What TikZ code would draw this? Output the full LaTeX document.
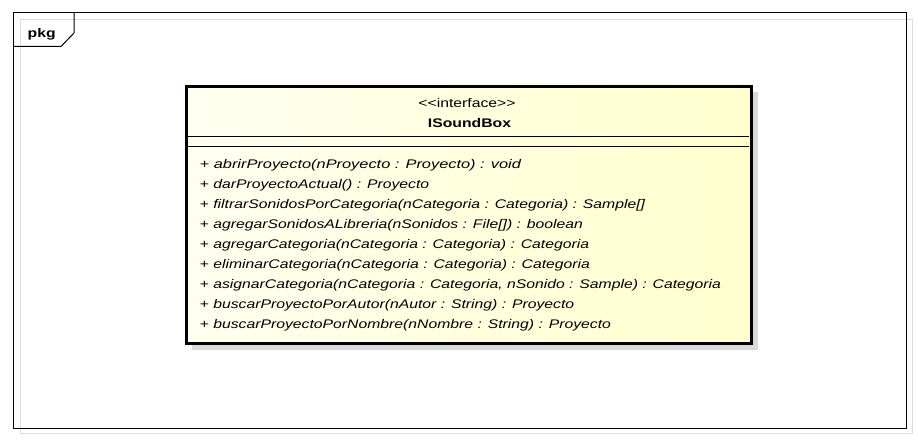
\documentclass[tikz,border=0pt]{standalone}
\usepackage{fontspec}
\setmainfont{Liberation Sans}[FakeStretch=1.26]
\begin{document}
\begin{tikzpicture}[x=1pt,y=-1pt,
  meth/.style={anchor=base west,inner sep=0pt,font=\fontsize{12.5}{15}\selectfont\itshape},
  hdr/.style={anchor=base,inner sep=0pt,font=\fontsize{12.5}{15}\selectfont}]
\useasboundingbox (0,0) rectangle (918,441);
\fill[white] (0,0) rectangle (918,441);
% package frame
\draw[line width=1pt,draw={rgb,255:red,220;green,220;blue,220}] (20,20) rectangle (912,433);
\draw[line width=1pt] (13,13) rectangle (906,428);
\draw[line width=1pt] (13,46.5) -- (61,46.5) -- (74,33) -- (74,13);
\node[anchor=base west,inner sep=0pt,font=\fontsize{12.5}{15}\selectfont\bfseries] (pkg) at (27.5,37.5) {pkg};
% class box
\fill[gray!30] (758,92) rectangle (192,350);
\shade[left color={rgb,255:red,255;green,255;blue,240},right color={rgb,255:red,255;green,255;blue,206}] (185,85) rectangle (750,342);
\node[draw,line width=3pt,minimum width=565pt,minimum height=257pt,inner sep=0pt,anchor=north west] (box) at (185,85) {};
\draw[line width=1pt] (186,136.5) -- (749,136.5);
\draw[line width=1pt] (186,146.5) -- (749,146.5);
\node[hdr] (st) at (467,107.3) {<{}<interface>{}>};
\node[hdr,font=\fontsize{12.5}{15}\selectfont\bfseries] (nm) at (469.5,127.3) {ISoundBox};
\node[meth] (m1) at (199.5,168.2) {\scalebox{1.04}[1]{+ abrirProyecto(nProyecto : Proyecto) : void}};
\node[meth] (m2) at (199.5,188.2) {+ darProyectoActual() : Proyecto};
\node[meth] (m3) at (199.5,208.25) {+ filtrarSonidosPorCategoria(nCategoria : Categoria) : Sample[]};
\node[meth] (m4) at (199.5,228.3) {+ agregarSonidosALibreria(nSonidos : File[]) : boolean};
\node[meth] (m5) at (199.5,248.3) {+ agregarCategoria(nCategoria : Categoria) : Categoria};
\node[meth] (m6) at (199.5,268.3) {+ eliminarCategoria(nCategoria : Categoria) : Categoria};
\node[meth] (m7) at (199.5,288.35) {+ asignarCategoria(nCategoria : Categoria, nSonido : Sample) : Categoria};
\node[meth] (m8) at (199.5,308.4) {+ buscarProyectoPorAutor(nAutor : String) : Proyecto};
\node[meth] (m9) at (199.5,328.4) {+ buscarProyectoPorNombre(nNombre : String) : Proyecto};
\end{tikzpicture}
\end{document}
